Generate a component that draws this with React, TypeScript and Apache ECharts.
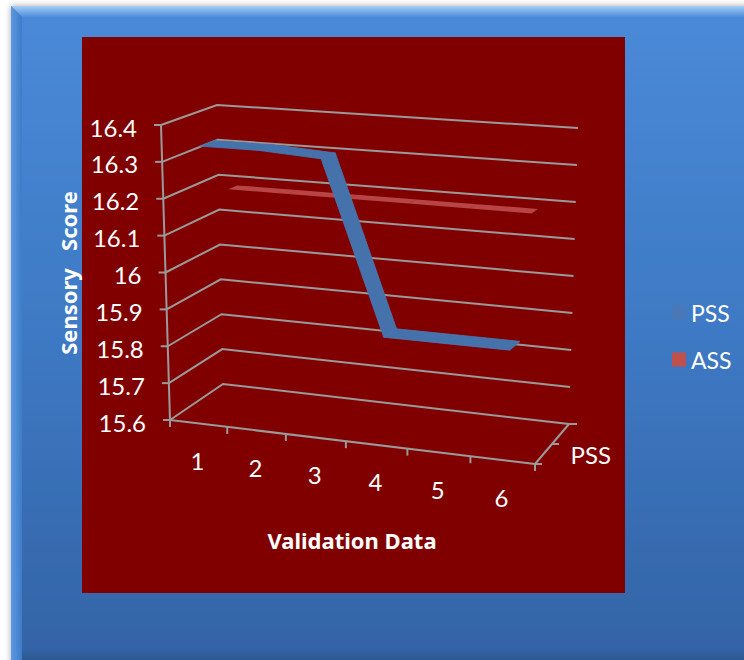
import React, { useEffect, useRef } from "react";
import * as echarts from "echarts";

// ---------- data ----------
const categories = ["1", "2", "3", "4", "5", "6"];
const seriesNames = ["PSS", "ASS"];
const pssValues = [16.34, 16.34, 16.33, 15.87, 15.87, 15.87];
const assValues = [16.19, 16.19, 16.19, 16.19, 16.19, 16.19];
const yTicks = [15.6, 15.7, 15.8, 15.9, 16.0, 16.1, 16.2, 16.3, 16.4];
const yMin = 15.6;
const yMax = 16.4;
const yStep = 0.1;
const xTitle = "Validation Data";
const yTitle = "Sensory   Score";

// ---------- 3D box layout (pixels) ----------
const BOX = {
  FLB: [170, 420], FRB: [535, 464], FLT: [161, 125], FRT: [541, 152],
  BLB: [223, 384], BRB: [569, 424], BLT: [217, 105], BRT: [578, 128],
};
const PERSPECTIVE = 1.075;
const DEPTH = { PSS: [0.15, 0.41], ASS: [0.64, 0.8] };
const GRID_COLOR = "#9a9a9a";
const FONT = "Lato";
const TITLE_FONT = "Noto Sans";
const LABEL_SIZE = 24;
const TITLE_SIZE = 22;

type P = number[];
function lerp(a: P, b: P, k: number): P {
  return [a[0] + (b[0] - a[0]) * k, a[1] + (b[1] - a[1]) * k];
}
function face(LB: P, RB: P, LT: P, RT: P, u: number, t: number): P {
  return lerp(lerp(LB, RB, u), lerp(LT, RT, u), t);
}
function proj(u: number, t: number, d: number): P {
  const uf = u / (PERSPECTIVE - (PERSPECTIVE - 1) * u);
  const F = face(BOX.FLB, BOX.FRB, BOX.FLT, BOX.FRT, uf, t);
  const B = face(BOX.BLB, BOX.BRB, BOX.BLT, BOX.BRT, u, t);
  return lerp(F, B, d);
}
function norm(cs: any, p: P) {
  return [(p[0] - cs.x) / cs.width, (cs.y + cs.height - p[1]) / cs.height];
}
function txt(x: number, y: number, text: string, extra: any = {}) {
  return {
    type: "text",
    x,
    y,
    style: Object.assign(
      {
        text,
        fill: "#ffffff",
        fontSize: LABEL_SIZE,
        fontFamily: FONT,
        align: "center",
        verticalAlign: "middle",
        textAlign: "center",
        textVerticalAlign: "middle",
      },
      extra
    ),
  };
}
const LINE_STYLE = { stroke: GRID_COLOR, lineWidth: 2, fill: "none" };

function ribbonSeries(name: string, values: number[], depth: number[], fill: string, stroke: string, strokeWidth: number, legendColor: string, z: number) {
  return {
    type: "custom",
    name,
    z,
    clip: false,
    coordinateSystem: "cartesian2d",
    itemStyle: { color: legendColor },
    encode: { x: 0, y: 1 },
    data: values.slice(0, -1).map((v, i) => [i, v, values[i + 1]]),
    renderItem: (params: any, api: any) => {
      const cs = params.coordSys;
      const i = api.value(0);
      const a = norm(cs, api.coord([i, api.value(1)]));
      const b = norm(cs, api.coord([i + 1, api.value(2)]));
      return {
        type: "polygon",
        shape: {
          points: [
            proj(a[0], a[1], depth[0]),
            proj(b[0], b[1], depth[0]),
            proj(b[0], b[1], depth[1]),
            proj(a[0], a[1], depth[1]),
          ],
        },
        style: { fill, stroke, lineWidth: strokeWidth },
      };
    },
  };
}

const titleStyle = (text: string) => ({
  text,
  fill: "#ffffff",
  fontSize: TITLE_SIZE,
  fontWeight: "bold",
  fontFamily: TITLE_FONT,
  align: "center",
  verticalAlign: "middle",
  textAlign: "center",
  textVerticalAlign: "middle",
});

export default function App() {
  const ref = useRef<HTMLDivElement>(null);
  useEffect(() => {
    const chart = echarts.init(ref.current as HTMLDivElement, null, { renderer: "svg" });
    const option: any = {
      animation: false,
      backgroundColor: "#ffffff",
      grid: { left: 170, top: 125, width: 365, height: 295 },
      xAxis: { type: "category", data: categories, show: false },
      yAxis: { type: "value", min: yMin, max: yMax, interval: yStep, show: false },
      legend: {
        data: seriesNames,
        orient: "vertical",
        left: 667,
        top: 296,
        itemWidth: 14,
        itemHeight: 14,
        itemGap: 24,
        icon: "rect",
        selectedMode: false,
        textStyle: { color: "#ffffff", fontSize: 23, fontFamily: FONT },
      },
      graphic: [
        {
          type: "rect",
          z: -20,
          shape: { x: 11, y: 6, width: 740, height: 660 },
          style: {
            fill: new echarts.graphic.LinearGradient(0, 0, 0, 1, [
              { offset: 0, color: "#4a8ad8" },
              { offset: 0.5, color: "#3e79c4" },
              { offset: 1, color: "#3363a5" },
            ]),
            shadowColor: "rgba(0,0,0,0.35)",
            shadowBlur: 6,
          },
        },
        {
          type: "polygon",
          z: -19,
          shape: { points: [[11, 6], [744, 6], [744, 17], [22, 17]] },
          style: {
            fill: new echarts.graphic.LinearGradient(0, 0, 0, 1, [
              { offset: 0, color: "#a6cdf6" },
              { offset: 1, color: "#4d8ddb" },
            ]),
          },
        },
        {
          type: "polygon",
          z: -19,
          shape: { points: [[11, 6], [22, 17], [22, 660], [11, 660]] },
          style: {
            fill: new echarts.graphic.LinearGradient(0, 0, 1, 0, [
              { offset: 0, color: "#5b98e0" },
              { offset: 1, color: "#3f7cc8" },
            ]),
          },
        },
        {
          type: "rect",
          z: -19,
          shape: { x: 22, y: 650, width: 722, height: 10 },
          style: {
            fill: new echarts.graphic.LinearGradient(0, 0, 0, 1, [
              { offset: 0, color: "#3363a5" },
              { offset: 1, color: "#2d5890" },
            ]),
          },
        },
        {
          type: "rect",
          z: -18,
          shape: { x: 82, y: 37, width: 543, height: 556 },
          style: { fill: "#800000" },
        },
        { type: "text", z: 10, x: 68, y: 273, rotation: Math.PI / 2, style: titleStyle(yTitle) },
        { type: "text", z: 10, x: 352, y: 540, style: titleStyle(xTitle) },
      ],
      series: [
        {
          type: "custom",
          name: "frame",
          z: 1,
          clip: false,
          coordinateSystem: "cartesian2d",
          encode: { x: 0, y: 1 },
          data: yTicks.map((v) => [0, v]),
          renderItem: (params: any, api: any) => {
            const cs = params.coordSys;
            const v = api.value(1);
            const t = norm(cs, api.coord([0, v]))[1];
            const a = proj(0, t, 0);
            const b = proj(0, t, 1);
            const c = proj(1, t, 1);
            const children: any[] = [
              { type: "polyline", shape: { points: [a, b, c] }, style: LINE_STYLE },
              { type: "line", shape: { x1: a[0] - 7, y1: a[1], x2: a[0], y2: a[1] }, style: LINE_STYLE },
              txt(a[0] - 24, a[1] + 2, String(v), { align: "right", textAlign: "right" }),
            ];
            if (params.dataIndex === 0) {
              const top = proj(0, 1, 0);
              const fr = proj(1, 0, 0);
              const br = proj(1, 0, 1);
              const mid = proj(1, 0, 0.5);
              const lab = proj(1, 0, 0.28);
              children.push(
                { type: "line", shape: { x1: a[0], y1: a[1], x2: top[0], y2: top[1] }, style: LINE_STYLE },
                { type: "line", shape: { x1: a[0], y1: a[1], x2: fr[0], y2: fr[1] }, style: LINE_STYLE },
                { type: "line", shape: { x1: fr[0], y1: fr[1], x2: br[0], y2: br[1] }, style: LINE_STYLE },
                { type: "line", shape: { x1: fr[0], y1: fr[1], x2: fr[0] + 7, y2: fr[1] }, style: LINE_STYLE },
                { type: "line", shape: { x1: mid[0], y1: mid[1], x2: mid[0] + 7, y2: mid[1] }, style: LINE_STYLE },
                { type: "line", shape: { x1: br[0], y1: br[1], x2: br[0] + 8, y2: br[1] }, style: LINE_STYLE },
                txt(lab[0] + 26, lab[1] + 2, seriesNames[0], { align: "left", textAlign: "left" })
              );
            }
            return { type: "group", children };
          },
        },
        {
          type: "custom",
          name: "categories",
          z: 1,
          clip: false,
          coordinateSystem: "cartesian2d",
          encode: { x: 0, y: 1 },
          data: categories.map((c, i) => [i, yMin]),
          renderItem: (params: any, api: any) => {
            const cs = params.coordSys;
            const i = api.value(0);
            const p = norm(cs, api.coord([i, yMin]));
            const bw = api.size([1, 0])[0] / cs.width;
            const q = proj(p[0], 0, 0);
            const e = proj(p[0] + bw / 2, 0, 0);
            const children: any[] = [
              { type: "line", shape: { x1: e[0], y1: e[1], x2: e[0], y2: e[1] + 7 }, style: LINE_STYLE },
              txt(q[0] - 1, q[1] + 37, categories[params.dataIndex]),
            ];
            if (params.dataIndex === 0) {
              const s = proj(p[0] - bw / 2, 0, 0);
              children.push({ type: "line", shape: { x1: s[0], y1: s[1], x2: s[0], y2: s[1] + 7 }, style: LINE_STYLE });
            }
            return { type: "group", children };
          },
        },
        ribbonSeries("ASS", assValues, DEPTH.ASS, "rgba(222,115,115,0.6)", "none", 0, "#c0504d", 2),
        ribbonSeries("PSS", pssValues, DEPTH.PSS, "#4672ab", "#4a77b1", 0.8, "#4a78b6", 3),
      ],
    };
    chart.setOption(option);
    return () => chart.dispose();
  }, []);
  return <div ref={ref} style={{ position: "fixed", left: 0, top: 0, width: 744, height: 660 }} />;
}
